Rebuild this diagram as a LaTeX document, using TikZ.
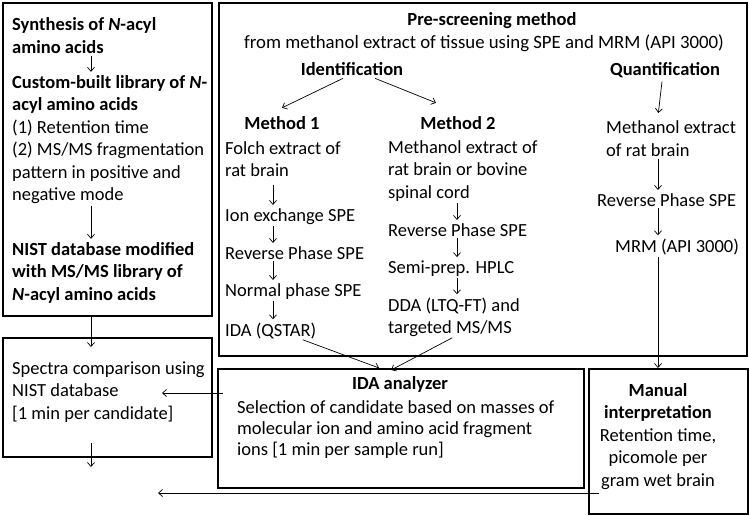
\documentclass[tikz,border=0pt]{standalone}
\usepackage{fontspec}
\setmainfont{Carlito}
\usetikzlibrary{arrows.meta}

\begin{document}
\begin{tikzpicture}[x=1pt, y=-1pt,
    txt/.style={inner sep=0pt, anchor=base west, align=left,
      font=\fontsize{18.5}{22.5}\selectfont},
    hd/.style={txt, font=\fontsize{18.5}{22.5}\selectfont\bfseries},
    ttl/.style={hd, anchor=base, align=center},
    frame/.style={draw, line width=2.2pt, anchor=north west, inner sep=0pt},
    arr/.style={-{Straight Barb[length=4pt,width=7pt]}, line width=0.7pt,
      shorten <=2pt, shorten >=3pt},
  ]
  \useasboundingbox (0,0) rectangle (749,516);

  % Riquadri
  \node[frame, minimum width=209pt, minimum height=313pt] (libbox) at (2,2) {};
  \node[frame, minimum width=209pt, minimum height=119pt] (specbox) at (2,337) {};
  \node[frame, minimum width=528pt, minimum height=353pt] (prebox) at (218,2) {};
  \node[frame, minimum width=366pt, minimum height=119pt] (idabox) at (217,368) {};
  \node[frame, minimum width=159pt, minimum height=145pt] (manbox) at (588,368) {};

  % Colonna di sinistra: libreria (base = ultima riga)
  \coordinate (lx) at (91,0);
  \node[hd] (syn) at (12,53.5) {Synthesis of \textit{N}-acyl\\amino acids};
  \node[txt] (lib) at (12,200.5) {\textbf{Custom-built library of \textit{N}-}\\\textbf{acyl amino acids}\\(1) Retention time\\(2) MS/MS fragmentation\\pattern in positive and\\negative mode};
  \node[hd] (nist) at (12,300) {NIST database modified\\with MS/MS library of\\\textit{N}-acyl amino acids};
  \node[txt] (spec) at (12,419) {Spectra comparison using\\NIST database\\{[}1 min per candidate{]}};

  \draw[arr] (syn.south -| lx) -- (lib.north -| lx);
  \draw[arr] (lib.south -| lx) -- (nist.north -| lx);
  \coordinate (lxa) at (91,347);
  \draw[arr, shorten <=0pt, shorten >=0pt] (libbox.south -| lxa) -- (lxa);
  \coordinate (lxb) at (91,443);
  \coordinate (lxc) at (91,467);
  \draw[arr, shorten <=0pt, shorten >=0pt] (lxb) -- (lxc);

  % Pre-screening
  \node[ttl] (pre) at (492,26) {Pre-screening method};
  \node[txt, anchor=base, font=\fontsize{18.8}{22.5}\selectfont] (tissue) at (484,49) {from methanol extract of tissue using SPE and MRM (API 3000)};
  \node[ttl] (ident) at (352,76) {Identification};
  \node[ttl] (quant) at (665,76) {Quantification};
  \node[ttl] (m1) at (282,129) {Method 1};
  \node[ttl] (m2) at (458,129) {Method 2};

  \draw[arr, shorten <=0pt, shorten >=0pt] ([xshift=-9pt,yshift=-2pt]ident.south) -- ([yshift=8pt]m1.north);
  \draw[arr, shorten <=0pt, shorten >=0pt] ([xshift=23pt,yshift=-2pt]ident.south) -- ([xshift=-22pt,yshift=13pt]m2.north);

  % Metodo 1
  \coordinate (ax) at (273,0);
  \node[txt] (folch) at (225,176.5) {Folch extract of\\rat brain};
  \node[txt] (ionx) at (225,221) {Ion exchange SPE};
  \node[txt] (rp1) at (225,259) {Reverse Phase SPE};
  \node[txt] (np1) at (225,296) {Normal phase SPE};
  \node[txt] (qstar) at (225,336) {IDA (QSTAR)};
  \draw[arr, shorten <=8pt] (folch.south -| ax) -- (ionx.north -| ax);
  \draw[arr] (ionx.south -| ax) -- (rp1.north -| ax);
  \draw[arr] (rp1.south -| ax) -- (np1.north -| ax);
  \draw[arr] (np1.south -| ax) -- (qstar.north -| ax);

  % Metodo 2
  \coordinate (bx) at (457,0);
  \node[txt] (meth) at (388,198) {Methanol extract of\\rat brain or bovine\\spinal cord};
  \node[txt] (rp2) at (388,236) {Reverse Phase SPE};
  \node[txt] (hplc) at (388,273) {Semi-prep. HPLC};
  \node[txt] (dda) at (388,333.5) {DDA (LTQ-FT) and\\targeted MS/MS};
  \draw[arr] (meth.south -| bx) -- (rp2.north -| bx);
  \draw[arr] (rp2.south -| bx) -- (hplc.north -| bx);
  \draw[arr] (hplc.south -| bx) -- (dda.north -| bx);

  % Quantificazione
  \coordinate (cx) at (658,0);
  \node[txt] (qm) at (606,156.5) {Methanol extract\\of rat brain};
  \node[txt] (rp3) at (597,206) {Reverse Phase SPE};
  \node[txt] (mrm) at (615,252) {MRM (API 3000)};
  \draw[arr, shorten <=0pt] ([xshift=-3pt,yshift=-3pt]quant.south) -- ([yshift=5pt]qm.north -| cx);
  \draw[arr] (qm.south -| cx) -- (rp3.north -| cx);
  \draw[arr] (rp3.south -| cx) -- (mrm.north -| cx);
  \draw[arr, shorten >=0pt] (mrm.south -| cx) -- (manbox.north -| cx);

  % IDA analyzer
  \node[ttl] (idat) at (400,389) {IDA analyzer};
  \node[txt, font=\fontsize{18.5}{21}\selectfont] (idab) at (237,455) {Selection of candidate based on masses of\\molecular ion and amino acid fragment\\ions {[}1 min per sample run{]}};
  \draw[arr, shorten <=0pt, shorten >=0pt] ([xshift=32pt,yshift=-1pt]qstar.south) -- ([xshift=-22pt]idabox.north);
  \draw[arr, shorten >=0pt] (dda.south) -- ([xshift=-10pt,yshift=-2pt]idabox.north);
  \coordinate (ia) at (223,393);
  \coordinate (ib) at (162,393);
  \draw[arr, shorten <=0pt, shorten >=0pt] (ia) -- (ib);

  % Interpretazione manuale
  \node[ttl] (mant) at (658,418.5) {Manual\\interpretation};
  \node[txt, anchor=base, align=center] (manb) at (658,486) {Retention time,\\picomole per\\gram wet brain};
  \coordinate (ma) at (599,493);
  \coordinate (mb) at (158,493);
  \draw[arr, shorten <=0pt, shorten >=0pt] (ma) -- (mb);

\end{tikzpicture}
\end{document}
